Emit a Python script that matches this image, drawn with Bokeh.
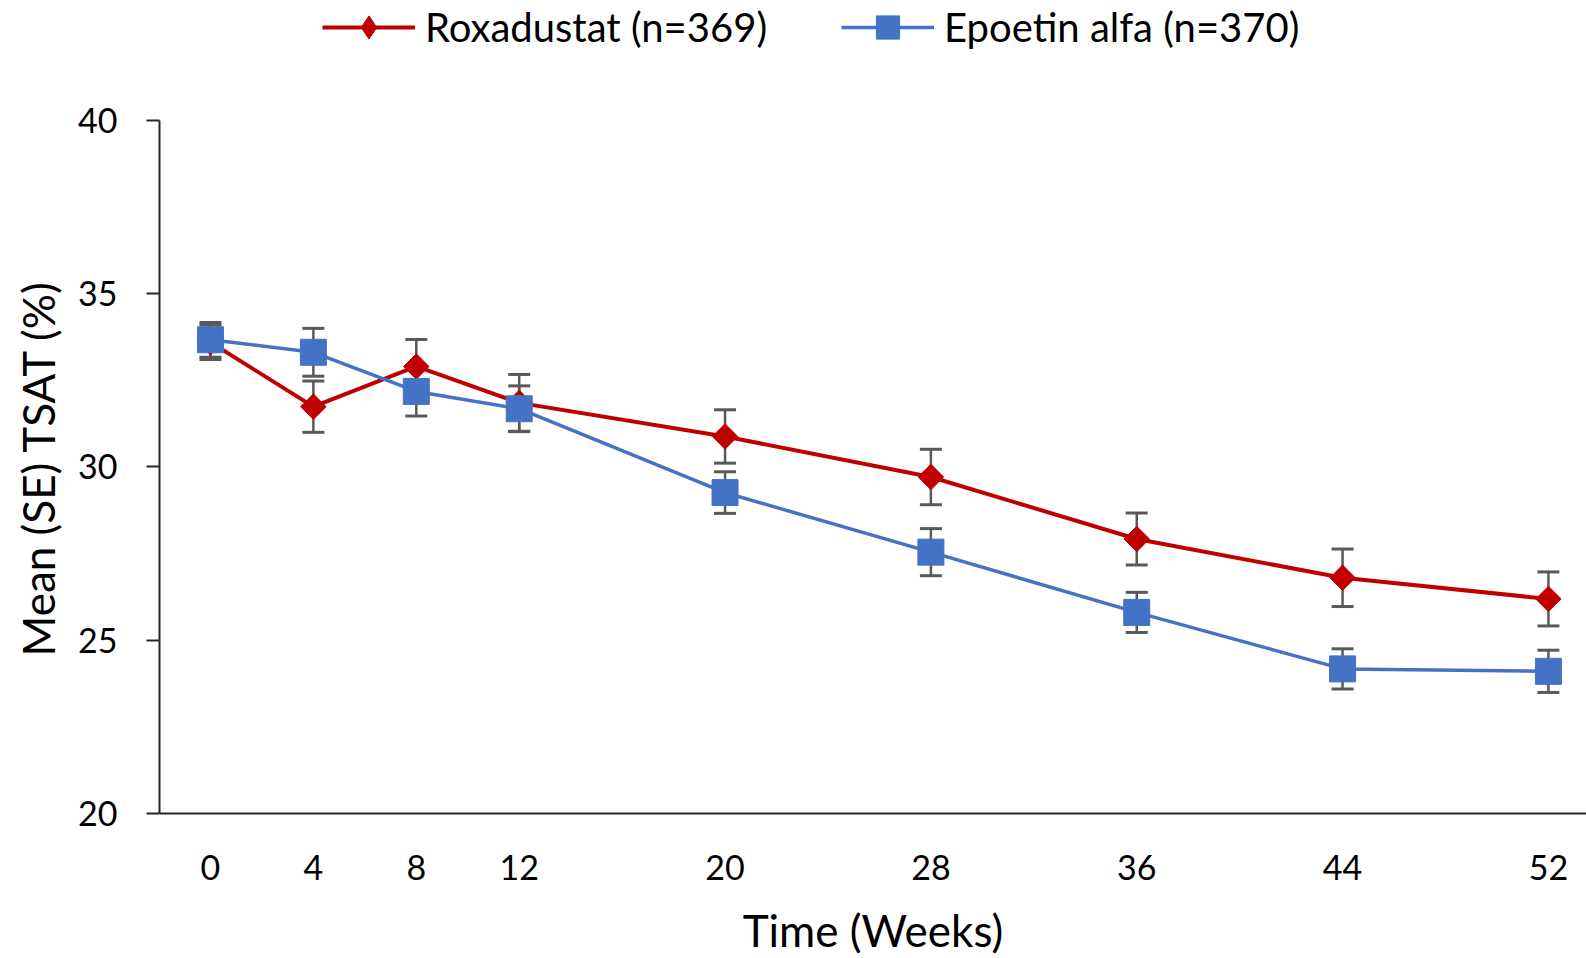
import numpy as np
from bokeh.plotting import figure
from bokeh.models import (ColumnDataSource, Whisker, TeeHead, FixedTicker,
                          Range1d, Legend, LegendItem, Title)
from bokeh.embed import file_html
from bokeh.resources import INLINE

# Study visits (weeks) and mean TSAT with its standard error per arm
weeks = [0, 4, 8, 12, 20, 28, 36, 44, 52]
rox_mean = [33.60, 31.74, 32.90, 31.85, 30.88, 29.71, 27.92, 26.80, 26.19]
rox_se = [0.50, 0.74, 0.78, 0.82, 0.77, 0.80, 0.75, 0.83, 0.78]
epo_mean = [33.67, 33.31, 32.18, 31.68, 29.26, 27.54, 25.80, 24.17, 24.10]
epo_se = [0.50, 0.69, 0.71, 0.66, 0.60, 0.68, 0.58, 0.58, 0.61]
y_ticks = [20, 25, 30, 35, 40]
rox_name = "Roxadustat (n=369)"
epo_name = "Epoetin alfa (n=370)"

RED = "#C00000"
BLUE = "#4472C4"
GREY = "#595959"
AXIS = "#262626"
FONT = "Lato"


def arm_source(mean, se):
    m = np.array(mean)
    s = np.array(se)
    return ColumnDataSource(dict(x=weeks, y=mean, upper=list(m + s), lower=list(m - s)))


rox_src = arm_source(rox_mean, rox_se)
epo_src = arm_source(epo_mean, epo_se)

# The frame fills the canvas vertically: the key sits above the 40 line and the
# x axis is pinned at y = 20, with its labels drawn in the space below it.
p = figure(width=1586, height=958, output_backend="svg", toolbar_location=None,
           x_range=Range1d(-1.98, 53.48), y_range=Range1d(15.81, 43.465),
           min_border_left=159, min_border_right=0, min_border_top=0,
           min_border_bottom=0)
p.outline_line_color = None
p.xgrid.visible = False
p.ygrid.visible = False
p.background_fill_color = "white"
p.border_fill_color = "white"

# error bars underneath the lines and markers
for src in (rox_src, epo_src):
    w = Whisker(base="x", upper="upper", lower="lower", source=src,
                line_color=GREY, line_width=2.5, level="underlay",
                upper_head=TeeHead(size=22, line_color=GREY, line_width=3),
                lower_head=TeeHead(size=22, line_color=GREY, line_width=3))
    p.add_layout(w)

rox_line = p.line("x", "y", source=rox_src, line_color=RED, line_width=4)
rox_pts = p.scatter("x", "y", source=rox_src, marker="square", angle=np.pi / 4,
                    size=18, fill_color=RED, line_color=RED)
epo_line = p.line("x", "y", source=epo_src, line_color=BLUE, line_width=3.5)
epo_pts = p.scatter("x", "y", source=epo_src, marker="square", size=26,
                    fill_color=BLUE, line_color=BLUE)
# diamond used only for the key (legend glyphs are drawn unrotated)
rox_key = p.scatter("x", "y", source=rox_src, marker="diamond",
                    fill_color=RED, line_color=RED, visible=False)

# axes
p.xaxis.fixed_location = 20
p.xaxis.ticker = FixedTicker(ticks=weeks)
p.xaxis.major_tick_out = 0
p.xaxis.major_tick_in = 0
p.xaxis.minor_tick_out = 0
p.xaxis.minor_tick_in = 0
p.xaxis.axis_line_color = AXIS
p.xaxis.axis_line_width = 2
p.xaxis.major_label_standoff = 42
p.xaxis.axis_label = "Time (Weeks)"
p.xaxis.axis_label_standoff = 20

p.yaxis.ticker = FixedTicker(ticks=y_ticks)
p.yaxis.bounds = (20, 40)
p.yaxis.major_tick_out = 13
p.yaxis.major_tick_in = 0
p.yaxis.minor_tick_out = 0
p.yaxis.minor_tick_in = 0
p.yaxis.major_tick_line_color = AXIS
p.yaxis.major_tick_line_width = 2
p.yaxis.axis_line_color = AXIS
p.yaxis.axis_line_width = 2
p.yaxis.major_label_standoff = 29

for ax in (p.xaxis, p.yaxis):
    ax.major_label_text_font = FONT
    ax.major_label_text_font_size = "34px"
    ax.major_label_text_color = "black"
    ax.axis_label_text_font = FONT
    ax.axis_label_text_font_size = "44px"
    ax.axis_label_text_font_style = "normal"
    ax.axis_label_text_color = "black"

# y title centred on the 20-40 span rather than the whole frame
y_title = Title(text="Mean (SE) TSAT (%)", align="left", offset=302, standoff=20,
                vertical_align="top", text_font=FONT, text_font_size="44px",
                text_font_style="normal", text_color="black")
p.add_layout(y_title, "left")

legend = Legend(items=[LegendItem(label=rox_name, renderers=[rox_line, rox_key]),
                       LegendItem(label=epo_name, renderers=[epo_line, epo_pts])],
                orientation="horizontal", location=(163, 902),
                glyph_width=93, glyph_height=58, label_standoff=10, spacing=74,
                padding=0, margin=0, border_line_color=None,
                background_fill_alpha=0,
                label_text_font=FONT, label_text_font_size="40px",
                label_text_color="black")
p.add_layout(legend, "center")

open("out.html", "w").write(file_html(p, INLINE))
